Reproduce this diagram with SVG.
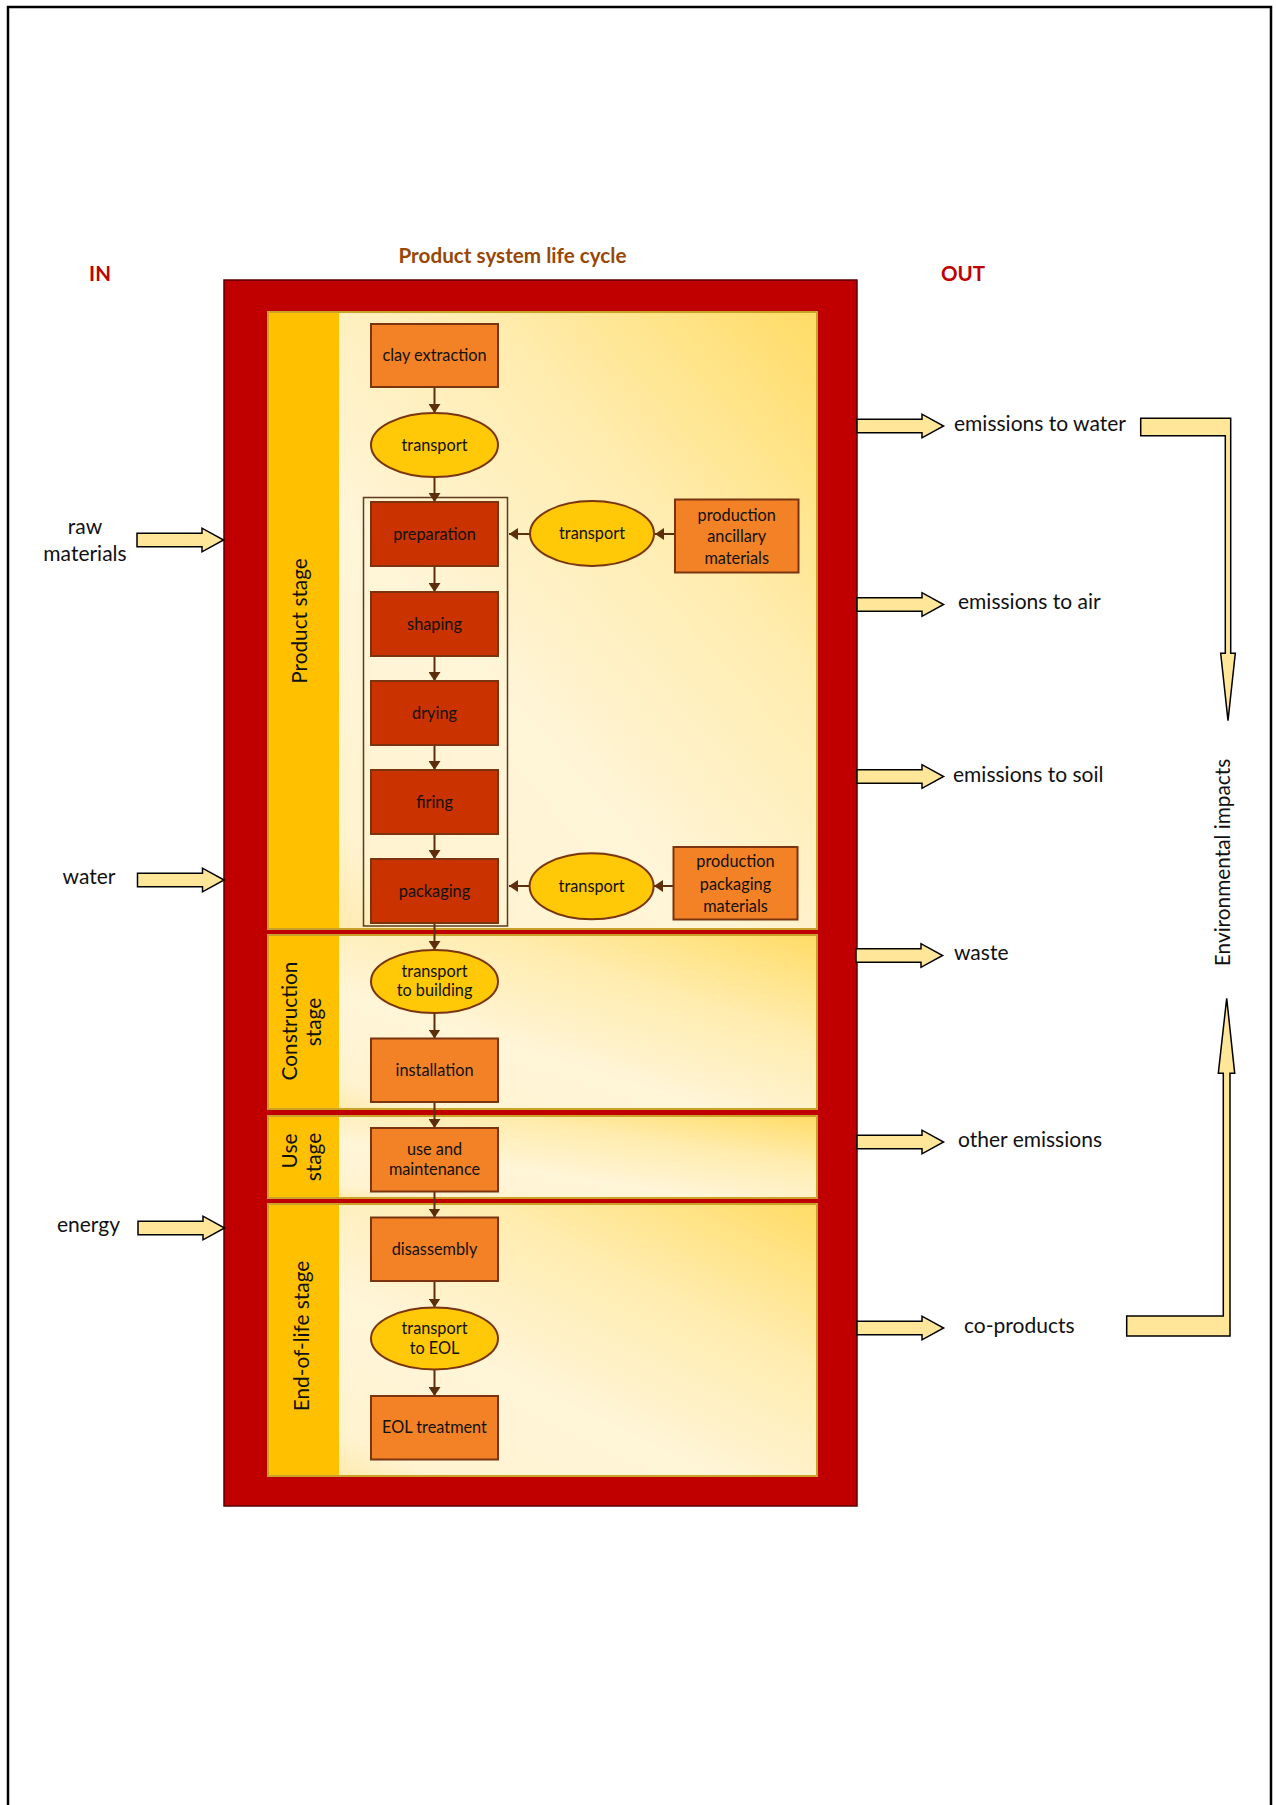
<svg xmlns="http://www.w3.org/2000/svg" width="1276" height="1805" viewBox="0 0 1276 1805">
<style>
text{font-family:Lato,"Open Sans","Liberation Sans",sans-serif;fill:#111}
.nl{font-size:16.3px;text-anchor:middle}
.io{font-size:21px}
.ioc{font-size:21px;text-anchor:middle}
.st{font-size:20.8px;text-anchor:middle}
.hdr{font-size:20.5px;font-weight:bold;fill:#C00000;text-anchor:middle}
.ttl{font-size:20.7px;font-weight:bold;fill:#984806;text-anchor:middle}
.dk{fill:#CA3200;stroke:#7A3410;stroke-width:2}
.lt{fill:#F38226;stroke:#7A3410;stroke-width:2}
.el{fill:#FFC907;stroke:#7A3410;stroke-width:2}
.panel{fill:url(#pg);stroke:#C9A227;stroke-width:2}
.band{fill:#FFC000}
.ba{fill:#FFE699;stroke:#000;stroke-width:1.5;stroke-linejoin:miter}
.cn{stroke:#5C2E0B;stroke-width:2;fill:none;marker-end:url(#ah)}
</style>
<defs>
<linearGradient id="pg" x1="1" y1="0" x2="0" y2="1">
<stop offset="0" stop-color="#FFDC66"/>
<stop offset="0.3" stop-color="#FFECAE"/>
<stop offset="0.6" stop-color="#FFF5D8"/>
<stop offset="0.85" stop-color="#FFF3D0"/>
<stop offset="1" stop-color="#FFE596"/>
</linearGradient>
<marker id="ah" markerUnits="userSpaceOnUse" markerWidth="10" markerHeight="12" refX="9" refY="6" orient="auto">
<path d="M0,0 L9,6 L0,12 z" fill="#5C2E0B"/>
</marker>
<path id="bar" d="M0,-6.7 H65 V-11.8 L86.6,0 L65,11.8 V6.7 H0 Z"/>
</defs>

<path d="M8,1805 V7 H1271 V1805" fill="none" stroke="#000" stroke-width="2.5"/>

<text class="hdr" x="100" y="281">IN</text>
<text class="hdr" x="963" y="281">OUT</text>
<text class="ttl" x="512.5" y="263">Product system life cycle</text>

<g id="system">
<rect x="224" y="280" width="633" height="1226" fill="#C00000" stroke="#5A0000" stroke-width="1.5"/>
</g>

<g id="product-stage">
<rect class="panel" x="268" y="312" width="549" height="617"/>
<rect class="band" x="269" y="313" width="70" height="615"/>
<text class="st" transform="translate(307,621) rotate(-90)">Product stage</text>
</g>
<g id="construction-stage">
<rect class="panel" x="268" y="935" width="549" height="174"/>
<rect class="band" x="269" y="936" width="70" height="172"/>
<text class="st" transform="translate(297,1021) rotate(-90)">Construction</text>
<text class="st" transform="translate(321,1022) rotate(-90)">stage</text>
</g>
<g id="use-stage">
<rect class="panel" x="268" y="1116" width="549" height="82"/>
<rect class="band" x="269" y="1117" width="70" height="80"/>
<text class="st" transform="translate(297,1151) rotate(-90)">Use</text>
<text class="st" transform="translate(321,1157) rotate(-90)">stage</text>
</g>
<g id="eol-stage">
<rect class="panel" x="268" y="1204" width="549" height="272"/>
<rect class="band" x="269" y="1205" width="70" height="270"/>
<text class="st" transform="translate(309,1336) rotate(-90)">End-of-life stage</text>
</g>

<g id="manufacturing-group">
<rect x="363.5" y="497.5" width="144" height="428.5" fill="none" stroke="#5C3A1E" stroke-width="1.5"/>
</g>

<g id="connectors">
<line class="cn" x1="434.5" y1="387" x2="434.5" y2="413"/>
<line class="cn" x1="434.5" y1="477" x2="434.5" y2="502"/>
<line class="cn" x1="434.5" y1="566" x2="434.5" y2="592"/>
<line class="cn" x1="434.5" y1="656" x2="434.5" y2="681"/>
<line class="cn" x1="434.5" y1="745" x2="434.5" y2="770"/>
<line class="cn" x1="434.5" y1="834" x2="434.5" y2="859"/>
<line class="cn" x1="434.5" y1="923" x2="434.5" y2="950"/>
<line class="cn" x1="434.5" y1="1013" x2="434.5" y2="1038.5"/>
<line class="cn" x1="434.5" y1="1102" x2="434.5" y2="1128"/>
<line class="cn" x1="434.5" y1="1192" x2="434.5" y2="1217.5"/>
<line class="cn" x1="434.5" y1="1281" x2="434.5" y2="1307.5"/>
<line class="cn" x1="434.5" y1="1370" x2="434.5" y2="1396"/>
<line class="cn" x1="675" y1="534" x2="655" y2="534"/>
<line class="cn" x1="530" y1="534" x2="509" y2="534"/>
<line class="cn" x1="673.5" y1="886" x2="654" y2="886"/>
<line class="cn" x1="529.5" y1="886" x2="509" y2="886"/>
</g>

<g id="clay-extraction"><rect class="lt" x="371" y="324" width="127" height="63"/><text class="nl" x="434.5" y="360.5">clay extraction</text></g>
<g id="transport-1"><ellipse class="el" cx="434.5" cy="445" rx="63.5" ry="32"/><text class="nl" x="434.5" y="450.5">transport</text></g>
<g id="preparation"><rect class="dk" x="371" y="502" width="127" height="64"/><text class="nl" x="434.5" y="539.5">preparation</text></g>
<g id="shaping"><rect class="dk" x="371" y="592" width="127" height="64"/><text class="nl" x="434.5" y="629.5">shaping</text></g>
<g id="drying"><rect class="dk" x="371" y="681" width="127" height="64"/><text class="nl" x="434.5" y="718.5">drying</text></g>
<g id="firing"><rect class="dk" x="371" y="770" width="127" height="64"/><text class="nl" x="434.5" y="807.5">firing</text></g>
<g id="packaging"><rect class="dk" x="371" y="859" width="127" height="64"/><text class="nl" x="434.5" y="896.5">packaging</text></g>

<g id="transport-ancillary"><ellipse class="el" cx="592" cy="533.5" rx="62" ry="32.5"/><text class="nl" x="592" y="539">transport</text></g>
<g id="production-ancillary"><rect class="lt" x="675" y="499.5" width="123.5" height="73"/><text class="nl" x="736.7" y="520.5">production</text><text class="nl" x="736.7" y="542">ancillary</text><text class="nl" x="736.7" y="563.5">materials</text></g>
<g id="transport-packaging"><ellipse class="el" cx="591.6" cy="886.3" rx="62" ry="33"/><text class="nl" x="591.6" y="892">transport</text></g>
<g id="production-packaging"><rect class="lt" x="673.5" y="847" width="124" height="72.5"/><text class="nl" x="735.5" y="867">production</text><text class="nl" x="735.5" y="889.5">packaging</text><text class="nl" x="735.5" y="911.5">materials</text></g>

<g id="transport-building"><ellipse class="el" cx="434.5" cy="981.5" rx="63.5" ry="31.5"/><text class="nl" x="434.5" y="976.5">transport</text><text class="nl" x="434.5" y="996">to building</text></g>
<g id="installation"><rect class="lt" x="371" y="1038.5" width="127" height="63.5"/><text class="nl" x="434.5" y="1075.5">installation</text></g>
<g id="use-maintenance"><rect class="lt" x="371" y="1128" width="127" height="63.5"/><text class="nl" x="434.5" y="1155">use and</text><text class="nl" x="434.5" y="1175">maintenance</text></g>
<g id="disassembly"><rect class="lt" x="371" y="1217.5" width="127" height="63.5"/><text class="nl" x="434.5" y="1254.5">disassembly</text></g>
<g id="transport-eol"><ellipse class="el" cx="434.5" cy="1338.5" rx="63.5" ry="31"/><text class="nl" x="434.5" y="1334">transport</text><text class="nl" x="434.5" y="1354">to EOL</text></g>
<g id="eol-treatment"><rect class="lt" x="371" y="1396" width="127" height="63.5"/><text class="nl" x="434.5" y="1433">EOL treatment</text></g>

<g id="inputs">
<use href="#bar" class="ba" transform="translate(137,540)"/>
<use href="#bar" class="ba" transform="translate(137.5,880)"/>
<use href="#bar" class="ba" transform="translate(138,1228)"/>
<text class="ioc" x="85" y="534">raw</text>
<text class="ioc" x="85" y="561">materials</text>
<text class="ioc" x="89" y="884">water</text>
<text class="ioc" x="88.5" y="1232">energy</text>
</g>

<g id="outputs">
<use href="#bar" class="ba" transform="translate(857,426)"/>
<use href="#bar" class="ba" transform="translate(857,604.5)"/>
<use href="#bar" class="ba" transform="translate(857,776.5)"/>
<use href="#bar" class="ba" transform="translate(856,955.5)"/>
<use href="#bar" class="ba" transform="translate(857,1142)"/>
<use href="#bar" class="ba" transform="translate(857,1328)"/>
<text class="io" x="954" y="430.5">emissions to water</text>
<text class="io" x="958" y="609">emissions to air</text>
<text class="io" x="953" y="781.5">emissions to soil</text>
<text class="io" x="954" y="959.5">waste</text>
<text class="io" x="958" y="1147">other emissions</text>
<text class="io" x="964" y="1333">co-products</text>
</g>

<g id="environmental-impacts">
<polygon class="ba" points="1140.7,418.3 1230.7,418.3 1230.7,653.3 1235.3,653.3 1228,720.7 1220.7,653.3 1225.3,653.3 1225.3,435.7 1140.7,435.7"/>
<polygon class="ba" points="1226.7,998.3 1234.7,1073.3 1230,1073.3 1230,1336 1126.7,1336 1126.7,1316 1223.3,1316 1223.3,1073.3 1218.3,1073.3"/>
<text class="st" transform="translate(1230,862.5) rotate(-90)">Environmental impacts</text>
</g>
</svg>
